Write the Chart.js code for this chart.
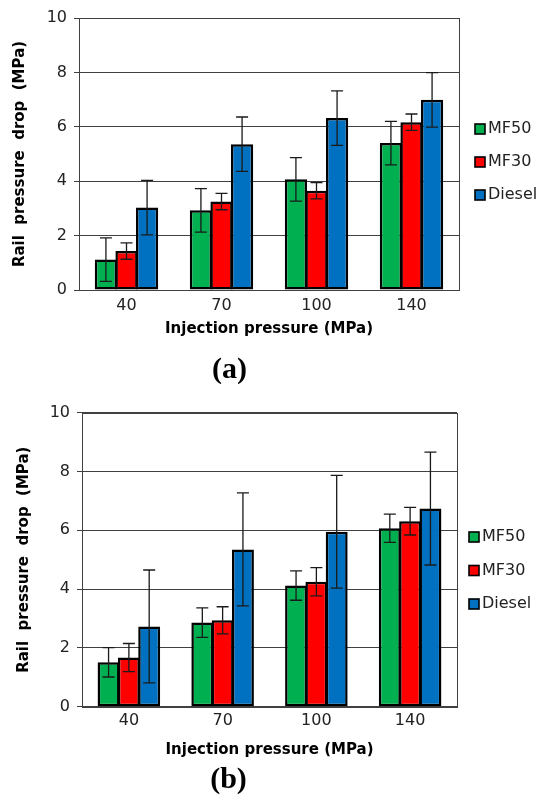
<!DOCTYPE html>
<html>
<head>
<meta charset="utf-8">
<script src="https://cdn.jsdelivr.net/npm/chart.js@4.4.0/dist/chart.umd.min.js"></script>
<style>
  body { margin: 0; background: #fff; }
  .panel { position: relative; width: 539px; }
</style>
</head>
<body>
<div class="panel" style="height:390px"><canvas id="chartA"></canvas></div>
<div class="panel" style="height:408px"><canvas id="chartB"></canvas></div>
<script>
const categories = ['40', '70', '100', '140']
const seriesNames = ['MF50', 'MF30', 'Diesel']
const seriesColors = ['#00b050', '#ff0000', '#0070c0']
const yTicks = [0, 2, 4, 6, 8, 10]

// panel (a)
const a_mf50 = [1.12, 2.93, 4.07, 5.40]
const a_mf30 = [1.43, 3.25, 3.65, 6.17]
const a_diesel = [3.03, 5.36, 6.32, 6.99]
const a_mf50Err = [0.8, 0.8, 0.8, 0.8]
const a_mf30Err = [0.3, 0.3, 0.3, 0.3]
const a_dieselErr = [1.0, 1.0, 1.0, 1.0]

// panel (b)
const b_mf50 = [1.51, 2.86, 4.12, 6.07]
const b_mf30 = [1.67, 2.94, 4.25, 6.31]
const b_diesel = [2.73, 5.35, 5.95, 6.74]
const b_mf50Err = [0.5, 0.5, 0.5, 0.48]
const b_mf30Err = [0.48, 0.46, 0.48, 0.47]
const b_dieselErr = [1.92, 1.92, 1.92, 1.92]

Chart.defaults.font.family = 'DejaVu Sans'

// box round the plot area (Excel style)
const frame = {
  id: 'frame',
  beforeDatasetsDraw(chart) {
    const {ctx, chartArea: a} = chart
    ctx.save()
    ctx.strokeStyle = '#404040'
    ctx.lineWidth = 1
    ctx.strokeRect(Math.round(a.left) + 0.5, Math.round(a.top) + 0.5, Math.round(a.width), Math.round(a.height))
    ctx.restore()
  }
}

const errorBars = {
  id: 'errorBars',
  afterDatasetsDraw(chart) {
    const ctx = chart.ctx
    const y = chart.scales.y
    ctx.save()
    ctx.strokeStyle = '#1a1a1a'
    ctx.lineWidth = 1.3
    chart.data.datasets.forEach((ds, i) => {
      chart.getDatasetMeta(i).data.forEach((bar, j) => {
        const top = y.getPixelForValue(ds.data[j] + ds.errors[j])
        const bot = y.getPixelForValue(ds.data[j] - ds.errors[j])
        ctx.beginPath()
        ctx.moveTo(bar.x, top); ctx.lineTo(bar.x, bot)
        ctx.moveTo(bar.x - 6, top); ctx.lineTo(bar.x + 6, top)
        ctx.moveTo(bar.x - 6, bot); ctx.lineTo(bar.x + 6, bot)
        ctx.stroke()
      })
    })
    ctx.restore()
  }
}

// legend to the right of the plot, drawn by hand so the gaps match
const sideLegend = {
  id: 'sideLegend',
  afterDraw(chart, args, opts) {
    const ctx = chart.ctx
    const x = chart.chartArea.right + opts.offset
    ctx.save()
    ctx.font = '16px "DejaVu Sans"'
    ctx.textBaseline = 'middle'
    chart.data.datasets.forEach((ds, i) => {
      const y = opts.top + i * opts.gap
      ctx.fillStyle = ds.backgroundColor
      ctx.fillRect(x, y - 5, 10, 10)
      ctx.strokeStyle = '#000'
      ctx.lineWidth = 1.6
      ctx.strokeRect(x, y - 5, 10, 10)
      ctx.fillStyle = '#222'
      ctx.fillText(ds.label, x + 13, y)
    })
    ctx.restore()
  }
}

function makeChart(id, values, errors, p) {
  return new Chart(document.getElementById(id), {
    type: 'bar',
    data: {
      labels: categories,
      datasets: seriesNames.map((name, i) => ({
        label: name,
        data: values[i],
        errors: errors[i],
        backgroundColor: seriesColors[i],
        borderColor: '#000',
        borderWidth: 2.5,
        borderSkipped: false,
        categoryPercentage: 0.65,
        barPercentage: 1.08
      }))
    },
    options: {
      responsive: true,
      maintainAspectRatio: false,
      animation: false,
      layout: { padding: { top: p.top, right: p.right, left: 0, bottom: 0 } },
      plugins: {
        legend: { display: false },
        tooltip: { enabled: false },
        title: {
          display: true, position: 'bottom', text: p.tag, color: '#000',
          font: { family: 'Liberation Serif', size: 30, weight: 'bold' },
          padding: { top: 0, bottom: p.tagPad }
        },
        sideLegend: p.legend
      },
      scales: {
        x: {
          grid: { display: false, drawTicks: false },
          border: { display: false },
          ticks: { padding: p.xTickPad, color: '#222', font: { size: 16 } },
          title: {
            display: true, text: 'Injection pressure (MPa)', color: '#000',
            font: { size: 15, weight: 'bold' },
            padding: { top: 0, bottom: p.xTitlePad }
          },
          afterFit: s => { s.height = p.xHeight }
        },
        y: {
          min: 0, max: 10,
          afterBuildTicks: s => { s.ticks = yTicks.map(v => ({ value: v })) },
          ticks: { padding: 7, color: '#222', font: { size: 16 } },
          grid: { color: '#404040', tickLength: 5 },
          border: { color: '#404040' },
          title: {
            display: true, text: 'Rail  pressure  drop  (MPa)', color: '#000',
            font: { size: 15, weight: 'bold' },
            padding: { top: p.yTitlePad, bottom: 0 }
          },
          afterFit: s => { s.width = p.yWidth }
        }
      }
    },
    plugins: [frame, errorBars, sideLegend]
  })
}

makeChart('chartA', [a_mf50, a_mf30, a_diesel], [a_mf50Err, a_mf30Err, a_dieselErr], {
  tag: '(a)', top: 18, right: 80, yWidth: 79, yTitlePad: 11,
  xHeight: 62, xTickPad: 6, xTitlePad: 14, tagPad: 2,
  legend: { offset: 16, top: 129, gap: 33 }
})

makeChart('chartB', [b_mf50, b_mf30, b_diesel], [b_mf50Err, b_mf30Err, b_dieselErr], {
  tag: '(b)', top: 22.7, right: 82, yWidth: 82, yTitlePad: 15,
  xHeight: 55.3, xTickPad: 4.4, xTitlePad: 3, tagPad: 0,
  legend: { offset: 12, top: 147, gap: 33.5 }
})
</script>
</body>
</html>
